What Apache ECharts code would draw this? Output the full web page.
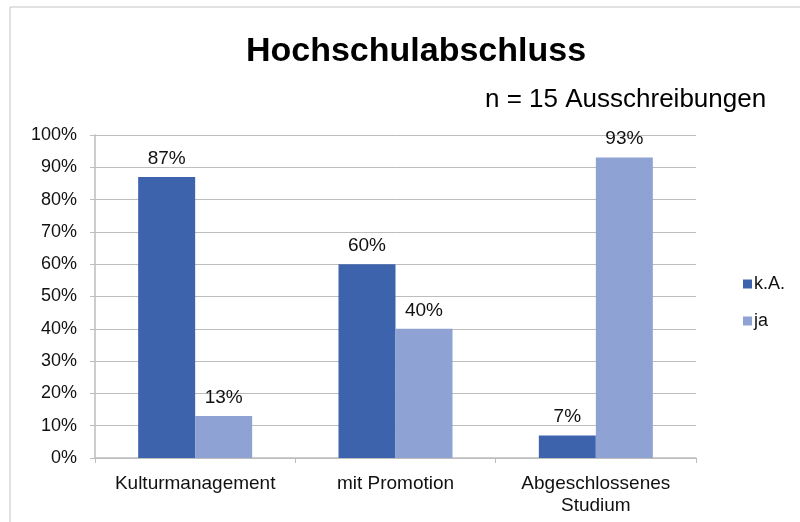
<!DOCTYPE html>
<html>
<head>
<meta charset="utf-8">
<script src="https://cdn.jsdelivr.net/npm/echarts@6/dist/echarts.min.js"></script>
<style>
  html, body { margin: 0; padding: 0; background: #fff; }
  #chart { width: 800px; height: 522px; }
</style>
</head>
<body>
<div id="chart"></div>
<script>
var categories = ['Kulturmanagement', 'mit Promotion', 'Abgeschlossenes\nStudium'];
var seriesNames = ['k.A.', 'ja'];
var kaValues = [87, 60, 7];
var jaValues = [13, 40, 93];
var seriesColors = ['#3d63ad', '#8ea3d3'];

var font = 'Liberation Sans, Arial, sans-serif';
var chart = echarts.init(document.getElementById('chart'));

function barSeries(name, values, color) {
    return {
        name: name,
        type: 'bar',
        data: values,
        barWidth: 57,
        barGap: '0%',
        itemStyle: { color: color },
        label: {
            show: true,
            position: 'top',
            distance: 9,
            formatter: '{c}%',
            color: '#111',
            fontFamily: font,
            fontSize: 19
        }
    };
}

var option = {
    animation: false,
    backgroundColor: '#fff',
    graphic: [{
        type: 'rect',
        shape: { x: 10, y: 7, width: 820, height: 540 },
        style: { fill: 'none', stroke: '#c4c4c4', lineWidth: 1 },
        silent: true
    }],
    title: [{
        text: 'Hochschulabschluss',
        left: 411,
        top: 30,
        textAlign: 'center',
        textStyle: { fontFamily: font, fontSize: 34, fontWeight: 'bold', color: '#000' }
    }, {
        text: 'n = 15 Ausschreibungen',
        left: 480,
        top: 82,
        textStyle: { fontFamily: font, fontSize: 26, fontWeight: 'normal', color: '#000' }
    }],
    legend: {
        orient: 'vertical',
        left: 738,
        top: 270,
        itemWidth: 9,
        itemHeight: 9,
        itemGap: 19,
        icon: 'rect',
        data: seriesNames,
        textStyle: { fontFamily: font, fontSize: 18, color: '#111', padding: [0, 0, 0, -3] }
    },
    grid: { left: 95, right: 104, top: 135, bottom: 64 },
    xAxis: {
        type: 'category',
        data: categories,
        axisLine: { lineStyle: { color: '#bdbdbd', width: 1.5 } },
        axisTick: { show: true, interval: 0, length: 5, lineStyle: { color: '#bdbdbd' } },
        axisLabel: { interval: 0, hideOverlap: false, fontFamily: font, fontSize: 19, color: '#111', margin: 15, lineHeight: 22 }
    },
    yAxis: {
        type: 'value',
        min: 0,
        max: 100,
        interval: 10,
        axisLine: { show: true, lineStyle: { color: '#bdbdbd', width: 1.5 } },
        axisTick: { show: true, length: 5, lineStyle: { color: '#bdbdbd' } },
        splitLine: { lineStyle: { color: '#bdbdbd', width: 1 } },
        axisLabel: { formatter: '{value}%', fontFamily: font, fontSize: 18, color: '#111', margin: 18 }
    },
    series: [
        barSeries(seriesNames[0], kaValues, seriesColors[0]),
        barSeries(seriesNames[1], jaValues, seriesColors[1])
    ]
};

chart.setOption(option);
</script>
</body>
</html>
